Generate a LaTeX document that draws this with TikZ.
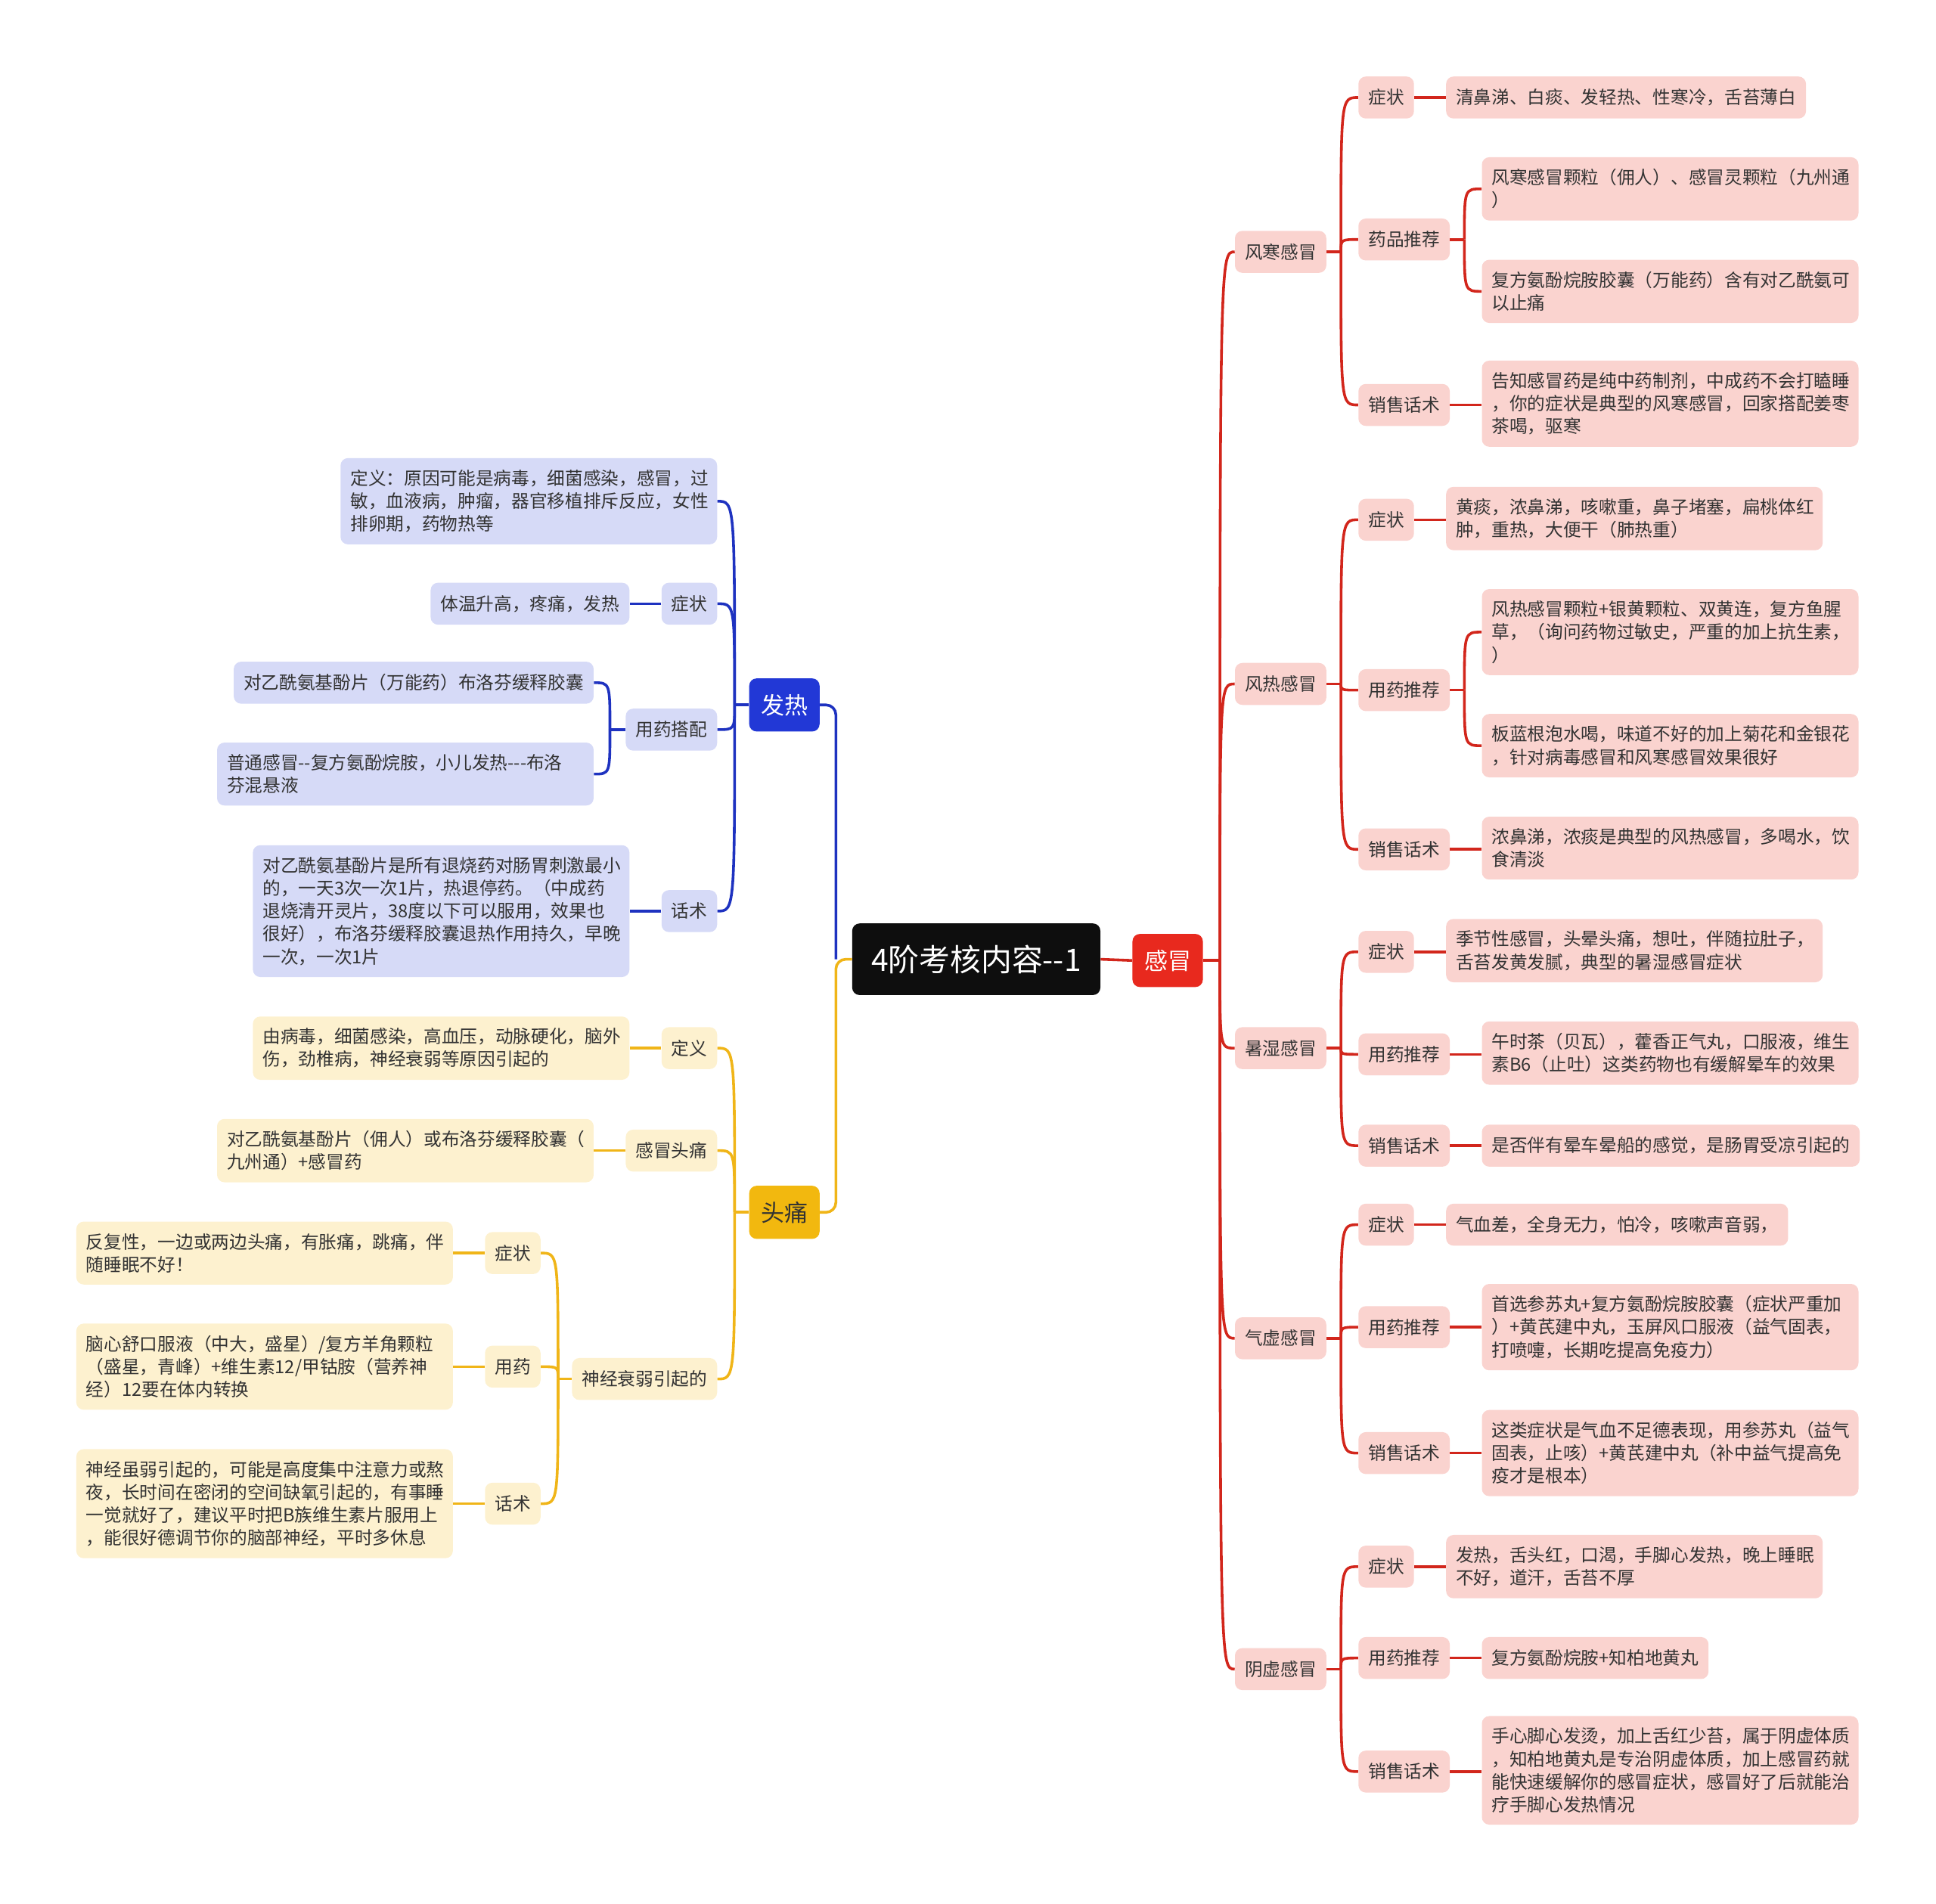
\documentclass[tikz,border=0pt]{standalone}
\usepackage{fontspec}
\setmainfont{Noto Sans CJK SC}
\definecolor{redd}{HTML}{D2261C}
\definecolor{redm}{HTML}{E8291E}
\definecolor{redl}{HTML}{FAD3CF}
\definecolor{blued}{HTML}{1E32C0}
\definecolor{bluem}{HTML}{2238D6}
\definecolor{bluel}{HTML}{D6DAF7}
\definecolor{yeld}{HTML}{F0B518}
\definecolor{yelm}{HTML}{F2B80F}
\definecolor{yell}{HTML}{FDF1CF}
\definecolor{txt}{HTML}{333333}
\definecolor{rootc}{HTML}{0E0E0E}
\newcommand\fsz{\fontsize{14.5}{18.5}\selectfont}
\newcommand\msz{\fontsize{19}{22}\selectfont}
\newcommand\rsz{\fontsize{25}{29}\selectfont}
\newcommand\hy{-\kern0pt}
\tikzset{
  basebox/.style={rounded corners=6pt, inner xsep=8pt, inner ysep=9.5pt, minimum height=34pt, font=\fsz, align=left, text=txt},
  redbox/.style={basebox, fill=redl},
  bluebox/.style={basebox, fill=bluel},
  yelbox/.style={basebox, fill=yell},
  multi/.style={text width=289pt},
  mainbox/.style={rounded corners=6pt, inner xsep=9.5pt, inner ysep=6pt, minimum height=43pt, font=\msz},
  redline/.style={draw=redd, line width=2.2pt},
  blueline/.style={draw=blued, line width=2.2pt},
  yelline/.style={draw=yeld, line width=2.2pt},
}
\newcommand\cv[3]{\draw[#1] (#2) .. controls (#2 |- #3) and (#2 |- #3) .. (#3);}
\begin{document}
\begin{tikzpicture}[x=1pt,y=-1pt]
\useasboundingbox (0,0) rectangle (1568,1542);

% root and main branches
\node[rounded corners=6pt, fill=rootc, text=white, font=\rsz, inner xsep=10pt, minimum width=201pt, minimum height=58pt, anchor=west] (r) at (690,777) {4阶考核内容\hy\hy 1};
\node[mainbox, fill=redm, text=white, anchor=west] (gm) at (917,778) {感冒};
\node[mainbox, fill=bluem, text=white, anchor=east] (fr) at (664,571) {发热};
\node[mainbox, fill=yelm, text=txt, anchor=east] (tt) at (664,982) {头痛};

\coordinate (jL) at (677,777);
\draw[yelline, rounded corners=8pt] (r.west) -- (jL) |- (tt.east);
\draw[blueline, rounded corners=8pt] (jL) |- (fr.east);
\draw[redline] (r.east) -- (gm.west);

% ===== 感冒 =====
\node[redbox, anchor=west] (c1) at (1000,204) {风寒感冒};
\node[redbox, anchor=west] (c2) at (1000,554) {风热感冒};
\node[redbox, anchor=west] (c3) at (1000,849) {暑湿感冒};
\node[redbox, anchor=west] (c4) at (1000,1084) {气虚感冒};
\node[redbox, anchor=west] (c5) at (1000,1352) {阴虚感冒};
\coordinate (jG) at (988,778);
\draw[redline] (gm.east) -- (jG);
\foreach \c in {c1,c2,c3,c4,c5}{\cv{redline}{jG}{\c.west}}

% 风寒感冒
\node[redbox, anchor=west] (c1a) at (1100,79) {症状};
\node[redbox, anchor=west] (c1b) at (1100,194) {药品推荐};
\node[redbox, anchor=west] (c1c) at (1100,328) {销售话术};
\node[redbox, anchor=west] (c1aL) at (1171,79) {清鼻涕、白痰、发轻热、性寒冷，舌苔薄白};
\node[redbox, multi, anchor=west] (c1bL1) at (1200,153) {风寒感冒颗粒（佣人）、感冒灵颗粒（九州通\\）};
\node[redbox, multi, anchor=west] (c1bL2) at (1200,236) {复方氨酚烷胺胶囊（万能药）含有对乙酰氨可\\以止痛};
\node[redbox, multi, anchor=west] (c1cL) at (1200,327) {告知感冒药是纯中药制剂，中成药不会打瞌睡\\，你的症状是典型的风寒感冒，回家搭配姜枣\\茶喝，驱寒};
\coordinate (j1) at (1086,204);
\draw[redline] (c1.east) -- (j1);
\foreach \c in {c1a,c1b,c1c}{\cv{redline}{j1}{\c.west}}
\coordinate (j1b) at (1186,194);
\draw[redline] (c1b.east) -- (j1b);
\cv{redline}{j1b}{c1bL1.west}
\cv{redline}{j1b}{c1bL2.west}
\draw[redline] (c1a.east) -- (c1a.east -| c1aL.west);
\draw[redline] (c1c.east) -- (c1c.east -| c1cL.west);

% 风热感冒
\node[redbox, anchor=west] (c2a) at (1100,421) {症状};
\node[redbox, anchor=west] (c2b) at (1100,559) {用药推荐};
\node[redbox, anchor=west] (c2c) at (1100,688) {销售话术};
\node[redbox, multi, anchor=west] (c2aL) at (1171,420) {黄痰，浓鼻涕，咳嗽重，鼻子堵塞，扁桃体红\\肿，重热，大便干（肺热重）};
\node[redbox, multi, anchor=west] (c2bL1) at (1200,512) {风热感冒颗粒+银黄颗粒、双黄连，复方鱼腥\\草，（询问药物过敏史，严重的加上抗生素，\\）};
\node[redbox, multi, anchor=west] (c2bL2) at (1200,604) {板蓝根泡水喝，味道不好的加上菊花和金银花\\，针对病毒感冒和风寒感冒效果很好};
\node[redbox, multi, anchor=west] (c2cL) at (1200,687) {浓鼻涕，浓痰是典型的风热感冒，多喝水，饮\\食清淡};
\coordinate (j2) at (1086,554);
\draw[redline] (c2.east) -- (j2);
\foreach \c in {c2a,c2b,c2c}{\cv{redline}{j2}{\c.west}}
\coordinate (j2b) at (1186,559);
\draw[redline] (c2b.east) -- (j2b);
\cv{redline}{j2b}{c2bL1.west}
\cv{redline}{j2b}{c2bL2.west}
\draw[redline] (c2a.east) -- (c2a.east -| c2aL.west);
\draw[redline] (c2c.east) -- (c2c.east -| c2cL.west);

% 暑湿感冒
\node[redbox, anchor=west] (c3a) at (1100,771) {症状};
\node[redbox, anchor=west] (c3b) at (1100,854) {用药推荐};
\node[redbox, anchor=west] (c3c) at (1100,928) {销售话术};
\node[redbox, multi, anchor=west] (c3aL) at (1171,770) {季节性感冒，头晕头痛，想吐，伴随拉肚子，\\舌苔发黄发腻，典型的暑湿感冒症状};
\node[redbox, multi, anchor=west] (c3bL) at (1200,853) {午时茶（贝瓦），藿香正气丸，口服液，维生\\素B6（止吐）这类药物也有缓解晕车的效果};
\node[redbox, anchor=west] (c3cL) at (1200,928) {是否伴有晕车晕船的感觉，是肠胃受凉引起的};
\coordinate (j3) at (1086,849);
\draw[redline] (c3.east) -- (j3);
\foreach \c in {c3a,c3b,c3c}{\cv{redline}{j3}{\c.west}}
\draw[redline] (c3a.east) -- (c3a.east -| c3aL.west);
\draw[redline] (c3b.east) -- (c3b.east -| c3bL.west);
\draw[redline] (c3c.east) -- (c3c.east -| c3cL.west);

% 气虚感冒
\node[redbox, anchor=west] (c4a) at (1100,992) {症状};
\node[redbox, anchor=west] (c4b) at (1100,1075) {用药推荐};
\node[redbox, anchor=west] (c4c) at (1100,1177) {销售话术};
\node[redbox, anchor=west] (c4aL) at (1171,992) {气血差，全身无力，怕冷，咳嗽声音弱，};
\node[redbox, multi, anchor=west] (c4bL) at (1200,1075) {首选参苏丸+复方氨酚烷胺胶囊（症状严重加\\）+黄芪建中丸，玉屏风口服液（益气固表，\\打喷嚏，长期吃提高免疫力）};
\node[redbox, multi, anchor=west] (c4cL) at (1200,1177) {这类症状是气血不足德表现，用参苏丸（益气\\固表，止咳）+黄芪建中丸（补中益气提高免\\疫才是根本）};
\coordinate (j4) at (1086,1084);
\draw[redline] (c4.east) -- (j4);
\foreach \c in {c4a,c4b,c4c}{\cv{redline}{j4}{\c.west}}
\draw[redline] (c4a.east) -- (c4a.east -| c4aL.west);
\draw[redline] (c4b.east) -- (c4b.east -| c4bL.west);
\draw[redline] (c4c.east) -- (c4c.east -| c4cL.west);

% 阴虚感冒
\node[redbox, anchor=west] (c5a) at (1100,1269) {症状};
\node[redbox, anchor=west] (c5b) at (1100,1343) {用药推荐};
\node[redbox, anchor=west] (c5c) at (1100,1435) {销售话术};
\node[redbox, multi, anchor=west] (c5aL) at (1171,1269) {发热，舌头红，口渴，手脚心发热，晚上睡眠\\不好，道汗，舌苔不厚};
\node[redbox, anchor=west] (c5bL) at (1200,1343) {复方氨酚烷胺+知柏地黄丸};
\node[redbox, multi, anchor=west] (c5cL) at (1200,1434) {手心脚心发烫，加上舌红少苔，属于阴虚体质\\，知柏地黄丸是专治阴虚体质，加上感冒药就\\能快速缓解你的感冒症状，感冒好了后就能治\\疗手脚心发热情况};
\coordinate (j5) at (1086,1352);
\draw[redline] (c5.east) -- (j5);
\foreach \c in {c5a,c5b,c5c}{\cv{redline}{j5}{\c.west}}
\draw[redline] (c5a.east) -- (c5a.east -| c5aL.west);
\draw[redline] (c5b.east) -- (c5b.east -| c5bL.west);
\draw[redline] (c5c.east) -- (c5c.east -| c5cL.west);

% ===== 发热 =====
\node[bluebox, multi, anchor=east] (f1) at (581,406) {定义：原因可能是病毒，细菌感染，感冒，过\\敏，血液病，肿瘤，器官移植排斥反应，女性\\排卵期，药物热等};
\node[bluebox, anchor=east] (f2) at (581,489) {症状};
\node[bluebox, anchor=east] (f3) at (581,591) {用药搭配};
\node[bluebox, anchor=east] (f4) at (581,738) {话术};
\node[bluebox, anchor=east] (f2L) at (510,489) {体温升高，疼痛，发热};
\node[bluebox, anchor=east] (f3L1) at (481,553) {对乙酰氨基酚片（万能药）布洛芬缓释胶囊};
\node[bluebox, multi, anchor=east] (f3L2) at (481,627) {普通感冒\hy\hy 复方氨酚烷胺，小儿发热\hy\hy\hy 布洛\\芬混悬液};
\node[bluebox, multi, anchor=east] (f4L) at (510,738) {对乙酰氨基酚片是所有退烧药对肠胃刺激最小\\的，一天3次一次1片，热退停药。（中成药\\退烧清开灵片，38度以下可以服用，效果也\\很好），布洛芬缓释胶囊退热作用持久，早晚\\一次，一次1片};
\coordinate (jF) at (595,571);
\draw[blueline] (fr.west) -- (jF);
\foreach \c in {f1,f2,f3,f4}{\cv{blueline}{jF}{\c.east}}
\coordinate (jF3) at (494,591);
\draw[blueline] (f3.west) -- (jF3);
\cv{blueline}{jF3}{f3L1.east}
\cv{blueline}{jF3}{f3L2.east}
\draw[blueline] (f2.west) -- (f2.west -| f2L.east);
\draw[blueline] (f4.west) -- (f4.west -| f4L.east);

% ===== 头痛 =====
\node[yelbox, anchor=east] (t1) at (581,849) {定义};
\node[yelbox, anchor=east] (t2) at (581,932) {感冒头痛};
\node[yelbox, anchor=east] (t3) at (581,1117) {神经衰弱引起的};
\node[yelbox, multi, anchor=east] (t1L) at (510,849) {由病毒，细菌感染，高血压，动脉硬化，脑外\\伤，劲椎病，神经衰弱等原因引起的};
\node[yelbox, multi, anchor=east] (t2L) at (481,932) {对乙酰氨基酚片（佣人）或布洛芬缓释胶囊（\\九州通）+感冒药};
\coordinate (jT) at (595,982);
\draw[yelline] (tt.west) -- (jT);
\foreach \c in {t1,t2,t3}{\cv{yelline}{jT}{\c.east}}
\draw[yelline] (t1.west) -- (t1.west -| t1L.east);
\draw[yelline] (t2.west) -- (t2.west -| t2L.east);

\node[yelbox, anchor=east] (t3a) at (438,1015) {症状};
\node[yelbox, anchor=east] (t3b) at (438,1107) {用药};
\node[yelbox, anchor=east] (t3c) at (438,1218) {话术};
\node[yelbox, multi, anchor=east] (t3aL) at (367,1015) {反复性，一边或两边头痛，有胀痛，跳痛，伴\\随睡眠不好！};
\node[yelbox, multi, anchor=east] (t3bL) at (367,1107) {脑心舒口服液（中大，盛星）/复方羊角颗粒\\（盛星，青峰）+维生素12/甲钴胺（营养神\\经）12要在体内转换};
\node[yelbox, multi, anchor=east] (t3cL) at (367,1218) {神经虽弱引起的，可能是高度集中注意力或熬\\夜，长时间在密闭的空间缺氧引起的，有事睡\\一觉就好了，建议平时把B族维生素片服用上\\，能很好德调节你的脑部神经，平时多休息};
\coordinate (jT3) at (452,1117);
\draw[yelline] (t3.west) -- (jT3);
\foreach \c in {t3a,t3b,t3c}{\cv{yelline}{jT3}{\c.east}}
\draw[yelline] (t3a.west) -- (t3a.west -| t3aL.east);
\draw[yelline] (t3b.west) -- (t3b.west -| t3bL.east);
\draw[yelline] (t3c.west) -- (t3c.west -| t3cL.east);
\end{tikzpicture}
\end{document}
